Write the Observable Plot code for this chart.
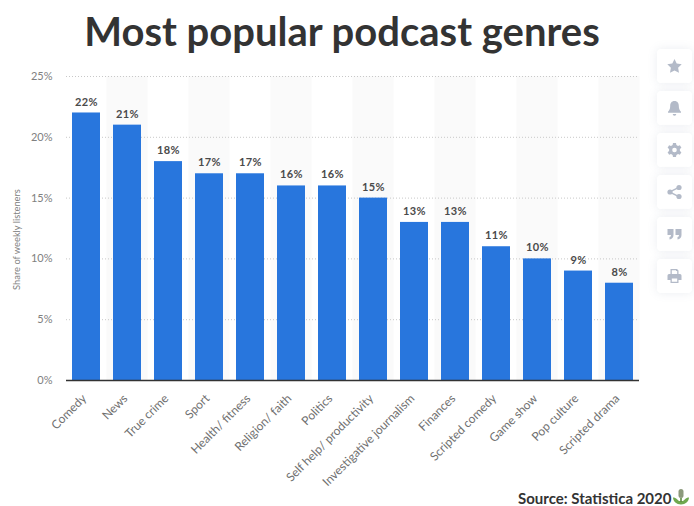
<!DOCTYPE html>
<html><head><meta charset="utf-8">
<script src="https://cdn.jsdelivr.net/npm/d3@7"></script>
<script src="https://cdn.jsdelivr.net/npm/@observablehq/plot@0.6"></script>
<style>
html,body{margin:0;padding:0;background:#fff;width:694px;height:506px;overflow:hidden;font-family:Lato,sans-serif}
#chart{position:absolute;left:0;top:56px}
#title{position:absolute;left:0;width:684px;top:6px;text-align:center;font:700 40px/50px Lato,sans-serif;color:#333}
#source{position:absolute;left:518px;top:490px;font:700 15px/16px Lato,sans-serif;color:#333;white-space:nowrap}
#logo{position:absolute;left:673px;top:489px}
.card{position:absolute;left:657px;width:35px;height:34px;background:#fff;border-radius:4px;box-shadow:0 0 10px rgba(130,140,170,.16)}
.card svg{position:absolute;left:9px;top:9px;width:17px;height:16px;fill:#b3bac8}
#chart text{font-family:Lato,sans-serif}
.vals text{letter-spacing:.4px}
</style></head><body>
<div id="title">Most popular podcast genres</div>
<div id="chart"></div>
<div id="source">Source: Statistica 2020</div>
<svg id="logo" width="16" height="16" viewBox="0 0 16 16"><path d="M0 8.500c1.500 0 3 .6 4 1.700L6 12h4l2-1.800c1-1.100 2.500-1.700 4-1.700-.2 4-3.500 7-8 7s-7.800-3-8-7z" fill="#6fa84f"/><rect x="5.500" y="0" width="5" height="9" rx="2.500" fill="#8c9a7c"/><rect x="7.200" y="9" width="1.600" height="4" fill="#5d8c41"/></svg>
<div class="card" style="top:49px"><svg viewBox="0 0 16 16"><path d="M8 1l2.200 4.600 5 .7-3.600 3.500.9 5L8 12.400l-4.500 2.400.9-5L.8 6.300l5-.7z"/></svg></div>
<div class="card" style="top:91px"><svg viewBox="0 0 16 16"><path d="M8 1c3 0 4.300 2.300 4.300 5 0 3 1 4.500 2.200 5.800v1H1.500v-1C2.700 10.500 3.700 9 3.700 6 3.700 3.300 5 1 8 1zM6.200 14h3.600a1.800 1.800 0 0 1-3.600 0z"/></svg></div>
<div class="card" style="top:133px"><svg viewBox="0 0 16 16"><path fill-rule="evenodd" d="M6.500 1h3l.4 2 1.600.9 1.900-.7 1.500 2.600-1.500 1.300v1.800l1.500 1.300-1.500 2.600-1.900-.7-1.600.9-.4 2h-3l-.4-2-1.600-.9-1.900.7L1.100 10.200l1.500-1.300V7.100L1.100 5.800l1.500-2.600 1.900.7L6.100 3zM8 5.700a2.300 2.300 0 1 0 0 4.600 2.300 2.300 0 0 0 0-4.600z"/></svg></div>
<div class="card" style="top:175px"><svg viewBox="0 0 16 16"><circle cx="12.500" cy="3.500" r="2.600"/><circle cx="12.500" cy="12.500" r="2.600"/><circle cx="3.500" cy="8" r="2.600"/><path d="M3 7.300l9-4.500.7 1.300-9 4.500zM3.700 7.400l9 4.500-.7 1.300-9-4.500z"/></svg></div>
<div class="card" style="top:217px"><svg viewBox="0 0 16 16"><path d="M1 3h6v6c0 2.500-1.500 4-4 4.500V11c1 0 1.500-.7 1.500-2H1zM9 3h6v6c0 2.500-1.500 4-4 4.500V11c1 0 1.500-.7 1.500-2H9z"/></svg></div>
<div class="card" style="top:259px"><svg viewBox="0 0 16 16"><path fill-rule="evenodd" d="M4 1h6.500L12 2.500V6h1.500A1.500 1.500 0 0 1 15 7.500V12h-3v3H4v-3H1V7.500A1.500 1.500 0 0 1 2.500 6H4zM5.300 2.300V6h5.400V3H9.500V2.300zM5.300 10.500v3.200h5.400v-3.200z"/></svg></div>
<script>
const genres = ["Comedy","News","True crime","Sport","Health/ fitness","Religion/ faith","Politics","Self help/ productivity","Investigative journalism","Finances","Scripted comedy","Game show","Pop culture","Scripted drama"];
const shares = [22,21,18,17,17,16,16,15,13,13,11,10,9,8];
const yTicks = [0,5,10,15,20,25];
const rows = genres.map((g,i)=>({genre:g,share:shares[i]}));
const shaded = genres.filter((g,i)=>i%2===1);

const plot = Plot.plot({
  width:694, height:450,
  marginLeft:66, marginRight:55, marginTop:20, marginBottom:126,
  style:{background:"transparent",overflow:"visible"},
  x:{domain:genres,padding:0.317,range:[59.3,646.3],label:null},
  y:{domain:[0,25],label:null},
  marks:[
    Plot.barY(shaded,{x:d=>d,y1:0,y2:()=>25,fill:"#fafafa",insetLeft:-6.5,insetRight:-6.5}),
    Plot.ruleY(yTicks.filter(t=>t>0),{stroke:"#c8c8c8",strokeWidth:1,strokeDasharray:"1 2"}),
    Plot.barY(rows,{x:"genre",y:"share",fill:"#2876dd"}),
    Plot.ruleY([0],{stroke:"#333",strokeWidth:1.5}),
    Plot.text(rows,{x:"genre",y:"share",text:d=>d.share+"%",dy:-11,fill:"#4a4a4a",fontWeight:700,fontSize:11,className:"vals"}),
    Plot.axisY({ticks:yTicks,tickSize:0,tickPadding:14,tickFormat:d=>d+"%",fill:"#808080",fontSize:11,label:null}),
    Plot.axisX({tickSize:0,tickRotate:-45,tickPadding:16,dx:-2,fill:"#707070",fontSize:12,label:null}),
    Plot.text(["Share of weekly listeners"],{frameAnchor:"left",textAnchor:"middle",rotate:-90,dx:-49,dy:11,fill:"#808080",fontSize:9.3})
  ]
});
document.getElementById("chart").appendChild(plot);
</script>
</body></html>
